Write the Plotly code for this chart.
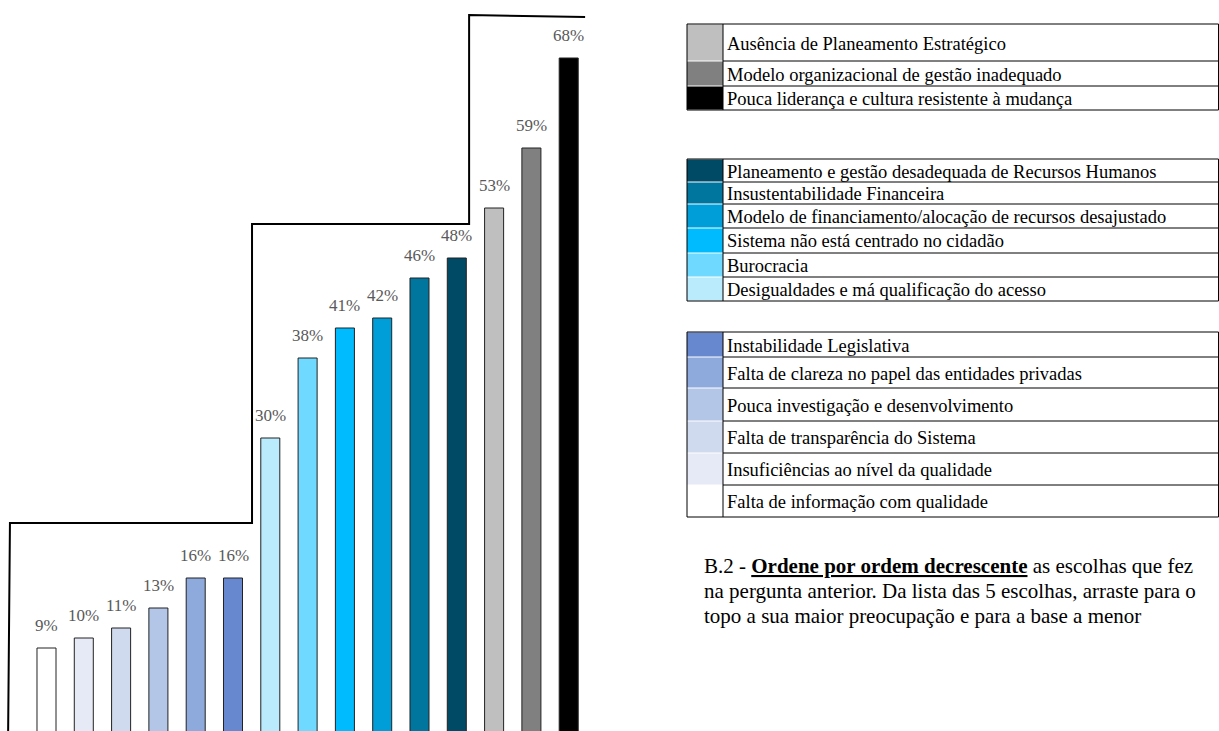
import plotly.graph_objects as go

# Problem categories, sorted ascending by share of answers
categories = [
    "Falta de informação com qualidade",
    "Insuficiências ao nível da qualidade",
    "Falta de transparência do Sistema",
    "Pouca investigação e desenvolvimento",
    "Falta de clareza no papel das entidades privadas",
    "Instabilidade Legislativa",
    "Desigualdades e má qualificação do acesso",
    "Burocracia",
    "Sistema não está centrado no cidadão",
    "Modelo de financiamento/alocação de recursos desajustado",
    "Insustentabilidade Financeira",
    "Planeamento e gestão desadequada de Recursos Humanos",
    "Ausência de Planeamento Estratégico",
    "Modelo organizacional de gestão inadequado",
    "Pouca liderança e cultura resistente à mudança",
]
values = [9, 10, 11, 13, 16, 16, 30, 38, 41, 42, 46, 48, 53, 59, 68]
colors = [
    "#FFFFFF", "#E6EAF6", "#CFDAEE", "#B3C6E7", "#8EA9DB", "#6788CF",
    "#B9EBFD", "#6FD9FF", "#00BCFF", "#009ED9", "#00769F", "#004A65",
    "#BFBFBF", "#808080", "#000000",
]

# Legend tables: indices into categories, listed top to bottom
legend_groups = [
    [12, 13, 14],
    [11, 10, 9, 8, 7, 6],
    [5, 4, 3, 2, 1, 0],
]

# Stepped outline that frames the three groups (data units)
outline_x = [-1.03, -0.98, 5.51, 5.51, 11.33, 11.33, 14.44]
outline_y = [0, 21.5, 21.5, 51.4, 51.4, 72.3, 72.1]

W, H = 1219, 731
SERIF = "Liberation Serif, Times New Roman, serif"


def px(x):
    return x / W


def py(y):
    return 1 - y / H


xs = list(range(len(values)))

fig = go.Figure()
fig.add_trace(go.Bar(
    x=xs, y=values, width=0.51,
    marker=dict(color=colors, line=dict(color="#222222", width=1)),
    hoverinfo="skip", showlegend=False,
))
fig.add_trace(go.Scatter(
    x=outline_x, y=outline_y, mode="lines",
    line=dict(color="#000000", width=2),
    hoverinfo="skip", showlegend=False,
))

annotations = []
for i, v in enumerate(values):
    annotations.append(dict(
        x=i, y=v, xref="x", yref="y", text=f"{v}%", showarrow=False,
        xanchor="center", yanchor="bottom", yshift=11,
        font=dict(family=SERIF, size=17, color="#595959"),
    ))

shapes = []
# table geometry in pixels: left edge, swatch column edge, right edge
TL, TS, TR = 687, 723, 1218.5
table_rows = [
    [24, 61, 86, 110],
    [159, 182, 204, 228, 253, 277, 301],
    [332, 357, 388, 421, 453, 485, 517],
]
for group, rows in zip(legend_groups, table_rows):
    for k, idx in enumerate(group):
        y0, y1 = rows[k], rows[k + 1]
        shapes.append(dict(
            type="rect", xref="paper", yref="paper",
            x0=px(TL), x1=px(TS), y0=py(y1 - 0.5), y1=py(y0 + 0.5),
            fillcolor=colors[idx], line=dict(width=0), layer="above",
        ))
        annotations.append(dict(
            x=px(TS + 2), y=py((y0 + y1) / 2 + 1), xref="paper", yref="paper",
            text=categories[idx], showarrow=False,
            xanchor="left", yanchor="middle",
            font=dict(family=SERIF, size=18.5, color="#000000"),
        ))
        if 0 < k:
            shapes.append(dict(
                type="line", xref="paper", yref="paper",
                x0=px(TS), x1=px(TR), y0=py(y0), y1=py(y0),
                line=dict(color="#000000", width=1), layer="above",
            ))
    top, bot = rows[0], rows[-1]
    for yy in (top, bot):
        shapes.append(dict(
            type="line", xref="paper", yref="paper",
            x0=px(TL), x1=px(TR), y0=py(yy), y1=py(yy),
            line=dict(color="#000000", width=1), layer="above",
        ))
    for xx in (TL, TS, TR):
        shapes.append(dict(
            type="line", xref="paper", yref="paper",
            x0=px(xx), x1=px(xx), y0=py(top), y1=py(bot),
            line=dict(color="#000000", width=1), layer="above",
        ))

# Question text below the legend
question_lines = [
    (566, "B.2 - <b><u>Ordene por ordem decrescente</u></b> as escolhas que fez"),
    (591, "na pergunta anterior. Da lista das 5 escolhas, arraste para o"),
    (616, "topo a sua maior preocupação e para a base a menor"),
]
for yc, txt in question_lines:
    annotations.append(dict(
        x=px(702), y=py(yc), xref="paper", yref="paper", text=txt,
        showarrow=False, xanchor="left", yanchor="middle",
        font=dict(family=SERIF, size=21, color="#000000"),
    ))

slot = 37.3
first_center = 46.5
plot_right = 600
fig.update_layout(
    width=W, height=H,
    margin=dict(l=0, r=0, t=0, b=0),
    paper_bgcolor="#FFFFFF", plot_bgcolor="rgba(0,0,0,0)",
    xaxis=dict(
        domain=[0, plot_right / W],
        range=[-first_center / slot, (plot_right - first_center) / slot],
        visible=False, fixedrange=True,
    ),
    yaxis=dict(range=[0.7, 73.8], visible=False, fixedrange=True),
    shapes=shapes, annotations=annotations,
    bargap=0.49,
)

fig.write_html("out.html")
